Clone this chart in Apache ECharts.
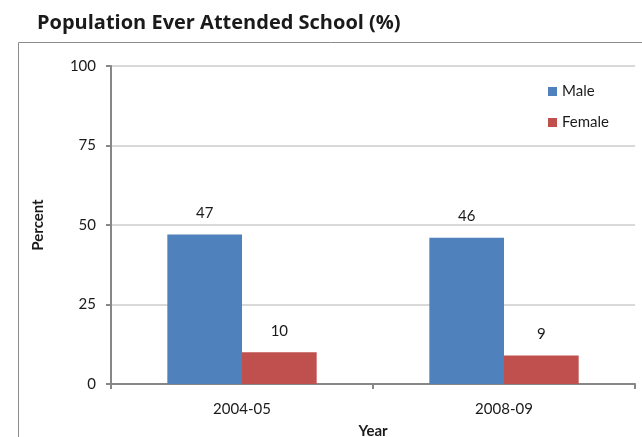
<!DOCTYPE html>
<html><head><meta charset="utf-8">
<script src="https://cdn.jsdelivr.net/npm/echarts@6/dist/echarts.min.js"></script>
<style>html,body{margin:0;padding:0;background:#fff}#c{width:642px;height:437px}</style>
</head><body><div id="c"></div>
<script>
const categories = ['2004-05', '2008-09'];
const maleValues = [47, 46];
const femaleValues = [10, 9];
const yTicks = [0, 25, 50, 75, 100];

const chart = echarts.init(document.getElementById('c'), null, {renderer: 'canvas'});
const font = 'Lato, "Open Sans", sans-serif';
chart.setOption({
  animation: false,
  textStyle: {fontFamily: font},
  title: {
    text: 'Population Ever Attended School (%)',
    left: 32, top: 8,
    textStyle: {fontFamily: '"Open Sans", sans-serif', fontSize: 20, fontWeight: 'bold', color: '#1a1a1a'}
  },
  graphic: [{
    type: 'rect', shape: {x: 18.5, y: 42.5, width: 700, height: 500},
    style: {fill: 'none', stroke: '#8c8c8c', lineWidth: 1}, silent: true
  }],
  legend: {
    orient: 'vertical', left: 543, top: 79,
    itemWidth: 9, itemHeight: 9, itemGap: 16,
    icon: 'rect',
    textStyle: {fontSize: 15, color: '#1a1a1a', fontFamily: font},
    data: ['Male', 'Female']
  },
  grid: {left: 111, right: 7, top: 66, bottom: 53, containLabel: false, outerBoundsMode: 'none'},
  xAxis: {
    type: 'category', data: categories,
    name: 'Year', nameLocation: 'middle', nameGap: 40,
    nameTextStyle: {fontWeight: 'bold', fontSize: 15, color: '#1a1a1a'},
    axisLine: {lineStyle: {color: '#878787', width: 2}},
    axisTick: {show: true, length: 5, lineStyle: {color: '#878787', width: 2}},
    axisLabel: {fontSize: 15, color: '#1a1a1a', margin: 18}
  },
  yAxis: {
    type: 'value', min: 0, max: 100, interval: 25,
    name: 'Percent', nameLocation: 'middle', nameGap: 65,
    nameTextStyle: {fontWeight: 'bold', fontSize: 15, color: '#1a1a1a'},
    axisLine: {show: true, lineStyle: {color: '#878787', width: 2}},
    axisTick: {show: true, length: 5, lineStyle: {color: '#878787', width: 2}},
    axisLabel: {fontSize: 15, color: '#1a1a1a', margin: 15,
      formatter: v => yTicks.includes(v) ? String(v) : ''},
    splitLine: {lineStyle: {color: '#d9d9d9', width: 2}}
  },
  series: [
    {name: 'Male', type: 'bar', data: maleValues, barGap: '0%', barCategoryGap: '43%',
     itemStyle: {color: '#4f81bd'},
     label: {show: true, position: 'top', distance: 14, fontSize: 15, color: '#1a1a1a'}},
    {name: 'Female', type: 'bar', data: femaleValues,
     itemStyle: {color: '#c0504d'},
     label: {show: true, position: 'top', distance: 14, fontSize: 15, color: '#1a1a1a'}}
  ]
});
</script></body></html>
